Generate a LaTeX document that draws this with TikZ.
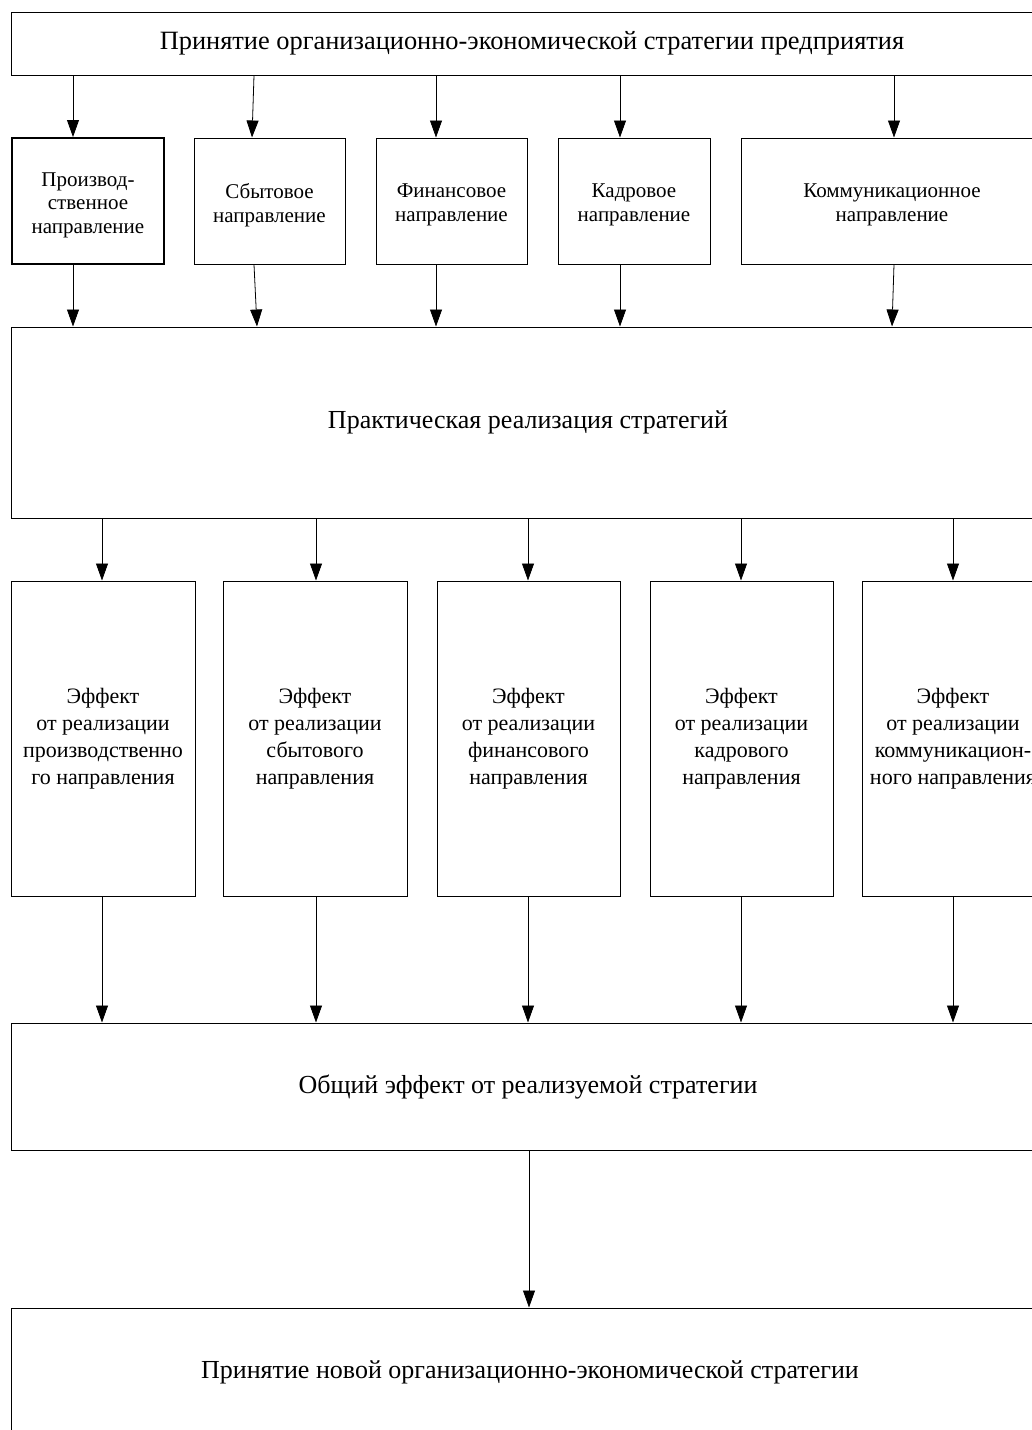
\documentclass[tikz,border=0pt]{standalone}
\usepackage{fontspec}
\setmainfont{Liberation Serif}
\usetikzlibrary{arrows.meta}
\begin{document}
\begin{tikzpicture}[x=1pt,y=-1pt,
  box/.style={draw=black,line width=1pt,rectangle,inner sep=2pt,align=center},
  bigtxt/.style={font=\fontsize{26}{30}\selectfont},
  dirbox/.style={box,minimum height=126},
  dirlab/.style={align=center,font=\fontsize{21}{23.5}\selectfont,yshift=-4pt,inner sep=0pt},
  efftxt/.style={font=\fontsize{22}{27}\selectfont},
  arr/.style={line width=0.8pt,-{Triangle[length=17pt,width=12pt]}}]
\useasboundingbox (0,0) rectangle (1032,1430);
\clip (0,0) rectangle (1032,1430);
\fill[white] (0,0) rectangle (1032,1430);
% top
\node[box,font=\fontsize{26.4}{30}\selectfont,minimum width=1042,minimum height=63] (top) at (532,43.5) {Принятие организационно-экономической стратегии предприятия};
% directions
\node[dirbox,line width=2pt,minimum width=152,label={[dirlab]center:Производ-\\ственное\\направление}] (p1) at (88,201) {};
\node[dirbox,minimum width=151,label={[dirlab]center:Сбытовое\\направление}] (p2) at (269.5,201) {};
\node[dirbox,minimum width=151,label={[dirlab]center:Финансовое\\направление}] (p3) at (451.5,201) {};
\node[dirbox,minimum width=152,label={[dirlab]center:Кадровое\\направление}] (p4) at (634,201) {};
\node[dirbox,minimum width=302,label={[dirlab]center:Коммуникационное\\направление}] (p5) at (892,201) {};
% middle
\node[box,bigtxt,minimum width=1034,minimum height=191] (mid) at (528,422.5) {Практическая реализация стратегий};
% effects
\node[box,efftxt,minimum width=184,minimum height=315] (e1) at (103,738.5) {Эффект\\от реализации\\производственно\\го направления};
\node[box,efftxt,minimum width=184,minimum height=315] (e2) at (315,738.5) {Эффект\\от реализации\\сбытового\\направления};
\node[box,efftxt,minimum width=183,minimum height=315] (e3) at (528.5,738.5) {Эффект\\от реализации\\финансового\\направления};
\node[box,efftxt,minimum width=183,minimum height=315] (e4) at (741.5,738.5) {Эффект\\от реализации\\кадрового\\направления};
\node[box,efftxt,minimum width=182,minimum height=315] (e5) at (953,738.5) {Эффект\\от реализации\\коммуникацион-\\ного направления};
% general
\node[box,bigtxt,minimum width=1034,minimum height=127] (gen) at (528,1086.5) {Общий эффект от реализуемой стратегии};
% bottom
\node[box,bigtxt,minimum width=1038,minimum height=128] (bot) at (530,1372) {Принятие новой организационно-экономической стратегии};
% arrows top -> directions
\draw[arr] (top.south -| 73,0) -- (p1.north -| 73,0);
\draw[arr] (top.south -| 254,0) -- (p2.north -| 252,0);
\draw[arr] (top.south -| 436,0) -- (p3.north -| 436,0);
\draw[arr] (top.south -| 620,0) -- (p4.north -| 620,0);
\draw[arr] (top.south -| 894,0) -- (p5.north -| 894,0);
% directions -> middle
\draw[arr] (p1.south -| 73,0) -- (mid.north -| 73,0);
\draw[arr] (p2.south -| 254,0) -- (mid.north -| 257,0);
\draw[arr] (p3.south -| 436,0) -- (mid.north -| 436,0);
\draw[arr] (p4.south -| 620,0) -- (mid.north -| 620,0);
\draw[arr] (p5.south -| 894,0) -- (mid.north -| 892,0);
% middle -> effects
\draw[arr] (mid.south -| 102,0) -- (e1.north -| 102,0);
\draw[arr] (mid.south -| 316,0) -- (e2.north -| 316,0);
\draw[arr] (mid.south -| 528,0) -- (e3.north -| 528,0);
\draw[arr] (mid.south -| 741,0) -- (e4.north -| 741,0);
\draw[arr] (mid.south -| 953,0) -- (e5.north -| 953,0);
% effects -> general
\draw[arr] (e1.south -| 102,0) -- (gen.north -| 102,0);
\draw[arr] (e2.south -| 316,0) -- (gen.north -| 316,0);
\draw[arr] (e3.south -| 528,0) -- (gen.north -| 528,0);
\draw[arr] (e4.south -| 741,0) -- (gen.north -| 741,0);
\draw[arr] (e5.south -| 953,0) -- (gen.north -| 953,0);
% general -> bottom
\draw[arr] (gen.south -| 529,0) -- (bot.north -| 529,0);
\end{tikzpicture}
\end{document}
